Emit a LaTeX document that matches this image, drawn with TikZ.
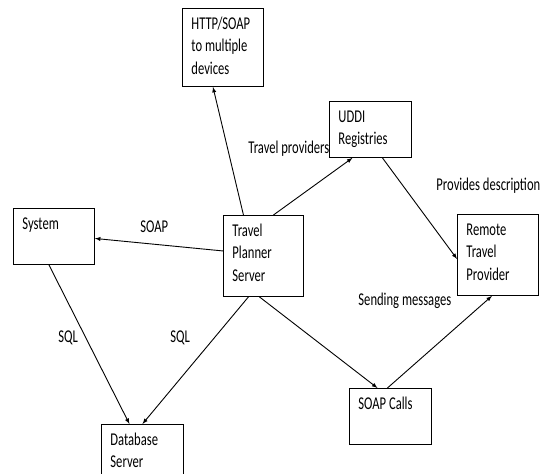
\documentclass[tikz,border=0pt]{standalone}
\usepackage{fontspec}
\setmainfont{Carlito}[FakeStretch=0.7]
\usepackage{tikz}
\usetikzlibrary{arrows}

\newcommand{\boxtext}[3]{\parbox[t][#2][t]{\dimexpr#1-18pt\relax}{\raggedright\rule{0pt}{21pt}#3}}

\tikzset{
  box/.style={draw, anchor=north west, inner xsep=9pt, inner ysep=0pt},
  lbl/.style={anchor=base west, inner sep=0pt},
  link/.style={-latex}
}

\begin{document}
\begin{tikzpicture}[x=1pt, y=-1pt, line width=0.9pt, every node/.style={font=\fontsize{18}{22.5}\selectfont}]
\clip (0,0) rectangle (544,474);

\node[box] (http) at (182,8) {\boxtext{81pt}{78pt}{HTTP/SOAP\\to multiple\\devices}};
\node[box] (uddi) at (329,101) {\boxtext{82pt}{56pt}{UDDI\\Registries}};
\node[box] (sys) at (13,208) {\boxtext{81pt}{56pt}{System}};
\node[box] (tps) at (223,215) {\boxtext{80pt}{81pt}{Travel\\Planner\\Server}};
\node[box] (remote) at (457,214) {\boxtext{81pt}{81pt}{Remote\\Travel\\Provider}};
\node[box] (calls) at (349,388) {\boxtext{82pt}{56pt}{SOAP Calls}};
\node[box] (db) at (101,424) {\boxtext{82pt}{62pt}{Database\\Server}};

\node[lbl] (l-prov) at (248,153) {Travel providers};
\node[lbl] (l-desc) at (436,190) {Provides description};
\node[lbl] (l-soap) at (140,232) {SOAP};
\node[lbl] (l-sql1) at (58,342) {SQL};
\node[lbl] (l-sql2) at (170,342) {SQL};
\node[lbl] (l-send) at (358,305) {Sending messages};

\draw[link] ([xshift=-20pt]tps.north) -- ([xshift=-10pt]http.south);
\draw[link] ([xshift=10pt]tps.north) -- ([xshift=-18pt]uddi.south);
\draw[link] ([xshift=12pt]uddi.south) -- ([yshift=-4pt]remote.west);
\draw[link] ([yshift=5pt]tps.west) -- ([yshift=-2pt]sys.east);
\draw[link] ([xshift=-5pt]sys.south) -- ([xshift=-13pt]db.north);
\draw[link] ([xshift=-15pt]tps.south) -- (db.north);
\draw[link] ([xshift=-4pt]tps.south) -- ([xshift=-13pt]calls.north);
\draw[link] ([xshift=-3pt]calls.north) -- ([xshift=-6pt]remote.south);

\end{tikzpicture}
\end{document}
